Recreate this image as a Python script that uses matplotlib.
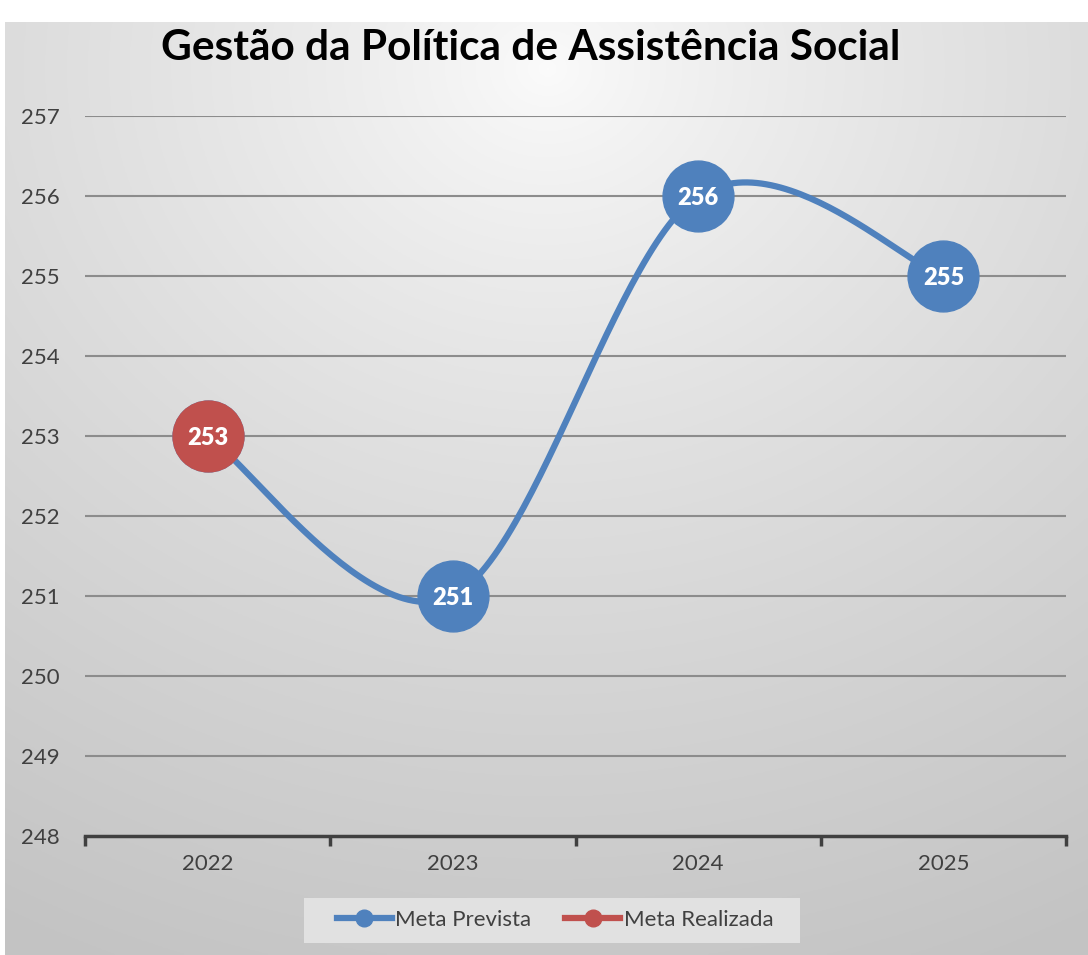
import numpy as np
import matplotlib
matplotlib.use("Agg")
import matplotlib.pyplot as plt
from matplotlib.lines import Line2D
from matplotlib.patches import Rectangle

# ---- data ----
categories = ["2022", "2023", "2024", "2025"]
meta_prevista = [253, 251, 256, 255]
meta_realizada = [253, None, None, None]
title = "Gestão da Política de Assistência Social"
y_ticks = [248, 249, 250, 251, 252, 253, 254, 255, 256, 257]

BLUE = "#4f81bd"
RED = "#c0504d"
TXT = "#404040"
FONT = ["Lato", "DejaVu Sans"]

W, H = 1088, 955
fig = plt.figure(figsize=(W / 100, H / 100), dpi=100, facecolor="white")

# background gradient panel
bg = fig.add_axes([5 / W, 0, 1 - 5 / W, (H - 22) / H])
bg.set_axis_off()
ny, nx = 400, 460
yy, xx = np.mgrid[0:ny, 0:nx]
cx, cy = nx * 0.5, ny * 0.05
d = np.sqrt(((xx - cx) / nx) ** 2 + ((yy - cy) / ny) ** 2)
d = np.clip(d / 1.05, 0, 1)
val = 0.985 - (0.985 - 0.765) * d ** 0.8
img = np.dstack([val, val, val])
bg.imshow(img, aspect="auto", extent=[0, 1, 0, 1], origin="upper")
bg.set_xlim(0, 1)
bg.set_ylim(0, 1)

# main axes
ax = fig.add_axes([85 / W, (H - 836) / H, (1066 - 85) / W, (836 - 116) / H])
ax.patch.set_alpha(0)
x = np.arange(len(categories))
ax.set_xlim(-0.5, len(categories) - 0.5)
ax.set_ylim(248, 257)

# gridlines
for yv in y_ticks[1:]:
    ax.axhline(yv, color="#8c8c8c", lw=1.5, zorder=1)

# smooth curve (Catmull-Rom / Bezier like Excel)
def smooth(xs, ys, n=60):
    P = np.column_stack([xs, ys]).astype(float)
    pts = []
    for i in range(len(P) - 1):
        p0 = P[i - 1] if i > 0 else P[i]
        p1 = P[i]
        p2 = P[i + 1]
        p3 = P[i + 2] if i + 2 < len(P) else P[i + 1]
        b1 = p1 + (p2 - p0) / 6
        b2 = p2 - (p3 - p1) / 6
        t = np.linspace(0, 1, n)[:, None]
        seg = ((1 - t) ** 3) * p1 + 3 * ((1 - t) ** 2) * t * b1 + 3 * (1 - t) * t ** 2 * b2 + t ** 3 * p2
        pts.append(seg)
    a = np.vstack(pts)
    return a[:, 0], a[:, 1]

sx, sy = smooth(x, meta_prevista)
ax.plot(sx, sy, color=BLUE, lw=4.5, solid_capstyle="round", zorder=3)
ax.plot(x, meta_prevista, "o", color=BLUE, ms=51, zorder=4)
rx = [xi for xi, v in zip(x, meta_realizada) if v is not None]
ry = [v for v in meta_realizada if v is not None]
ax.plot(rx, ry, "o", color=RED, ms=51, zorder=5)

for xi, v, r in zip(x, meta_prevista, meta_realizada):
    ax.text(xi, v - 0.02, str(r if r is not None else v), color="white", fontsize=17,
            fontweight="heavy", ha="center", va="center", family=FONT, zorder=6)

# axes styling
for s in ["top", "right", "left"]:
    ax.spines[s].set_visible(False)
ax.spines["bottom"].set_color("#404040")
ax.spines["bottom"].set_linewidth(2.5)
ax.set_yticks(y_ticks)
ax.set_yticklabels([str(v) for v in y_ticks], family=FONT, fontsize=16, color=TXT)
ax.tick_params(axis="y", length=0, pad=18)
ax.set_xticks(x)
ax.set_xticklabels(categories, family=FONT, fontsize=16, color=TXT)
ax.tick_params(axis="x", length=0, pad=13)
ax.set_xticks(np.arange(-0.5, len(categories), 1), minor=True)
ax.tick_params(axis="x", which="minor", length=7, width=2.5, color="#404040")

# title
fig.text(531 / W, 1 - 48 / H, title, ha="center", va="center", fontsize=30.5,
         fontweight="bold", family=FONT, color="black")

# legend box + legend
fig.patches.append(Rectangle((304 / W, 1 - 943 / H), (800 - 304) / W, 45 / H,
                             transform=fig.transFigure, facecolor="#e1e1e1",
                             edgecolor="none", zorder=0))
handles = [
    Line2D([], [], color=BLUE, lw=4.5, marker="o", ms=12),
    Line2D([], [], color=RED, lw=4.5, marker="o", ms=12),
]
leg = fig.legend(handles, ["Meta Prevista", "Meta Realizada"], loc="center",
                 bbox_to_anchor=(555 / W, 1 - 920 / H), ncol=2, frameon=False,
                 prop={"family": FONT, "size": 16}, handlelength=2.5,
                 handletextpad=0.15, columnspacing=1.5)
for t in leg.get_texts():
    t.set_color(TXT)

fig.savefig("out.png", dpi=100, facecolor="white")
